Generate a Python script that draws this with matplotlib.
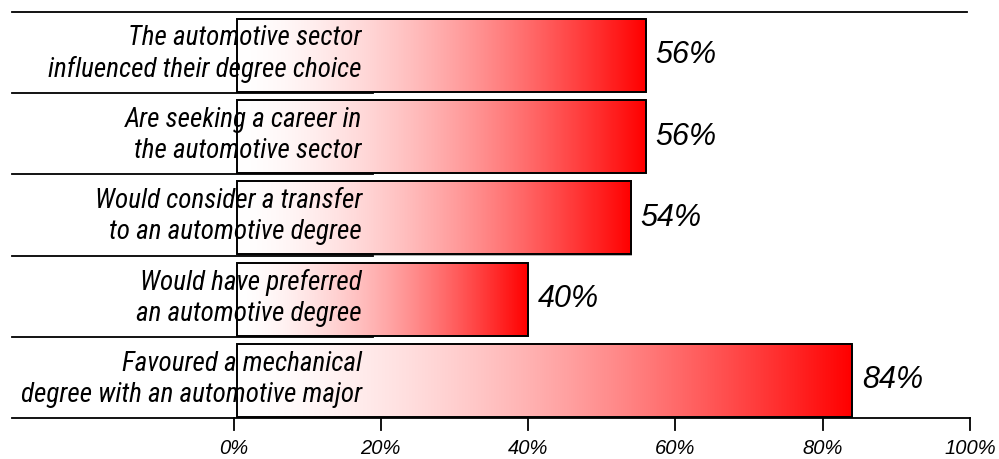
import numpy as np
import matplotlib.pyplot as plt
from matplotlib.lines import Line2D
from matplotlib.patches import Rectangle

categories = [
    "The automotive sector\ninfluenced their degree choice",
    "Are seeking a career in\nthe automotive sector",
    "Would consider a transfer\nto an automotive degree",
    "Would have preferred\nan automotive degree",
    "Favoured a mechanical\ndegree with an automotive major",
]
values = [56, 56, 54, 40, 84]
ticks = [0, 20, 40, 60, 80, 100]
tick_labels = ["0%", "20%", "40%", "60%", "80%", "100%"]

W, H = 999, 459
label_font = ["Roboto Condensed", "Archivo Narrow", "Liberation Sans"]

fig = plt.figure(figsize=(W / 100, H / 100), dpi=100)
# axes: 0% at x=233.5px, 100% at x=970px, bands from y=12 to y=418
x0, x1, ytop, ybot = 233.5, 970, 12, 418
ax = fig.add_axes([x0 / W, 1 - ybot / H, (x1 - x0) / W, (ybot - ytop) / H])

# white -> red, lighter over the first half
grad = np.linspace(0, 1, 256) ** 1.6
cmap_img = np.zeros((1, 256, 3))
cmap_img[0, :, 0] = 1.0
cmap_img[0, :, 1] = 1 - grad
cmap_img[0, :, 2] = 1 - grad

left = 0.5
bh = 0.9
label_x = -(x0 - 362) / (x1 - x0) * 100
for i, (cat, v) in enumerate(zip(categories, values)):
    yc = i + 0.035
    # soft shadow
    ax.add_patch(Rectangle((left + 0.15, yc - bh / 2 + 0.015), v - left, bh,
                           facecolor="#b0b0b0", edgecolor="none", zorder=1))
    ax.imshow(cmap_img, extent=[left, v, yc + bh / 2, yc - bh / 2], aspect="auto",
              interpolation="bilinear", zorder=2)
    ax.add_patch(Rectangle((left, yc - bh / 2), v - left, bh,
                           facecolor="none", edgecolor="black", lw=1.4, zorder=3))
    ax.text(v + 1.3, yc, f"{v}%", ha="left", va="center", fontsize=22,
            style="italic", family="Liberation Sans", zorder=4)
    ax.text(label_x, i + 0.02, cat, ha="right", va="center",
            fontsize=19.5, style="italic", family=label_font, linespacing=1.25, zorder=4)

ax.set_xlim(0, 100)
ax.set_ylim(len(categories) - 0.5, -0.5)
ax.axis("off")

# lines in figure pixels
def hline(xa, xb, y, lw=1.3):
    fig.add_artist(Line2D([xa / W, xb / W], [1 - y / H, 1 - y / H], color="black", lw=lw))

hline(12, 967, 12)
band = (ybot - ytop) / len(categories)
for k in range(1, len(categories)):
    hline(12, 373, ytop + k * band)
hline(12, 970, ybot)

for t, lab in zip(ticks, tick_labels):
    xp = x0 + t / 100 * (x1 - x0)
    fig.add_artist(Line2D([xp / W, xp / W], [1 - ybot / H, 1 - (ybot + 12) / H],
                          color="black", lw=1.3))
    fig.text(xp / W, 1 - 449 / H, lab, ha="center", va="center", fontsize=14.5,
             style="italic", family="Liberation Sans")

fig.savefig("out.png", dpi=100)
